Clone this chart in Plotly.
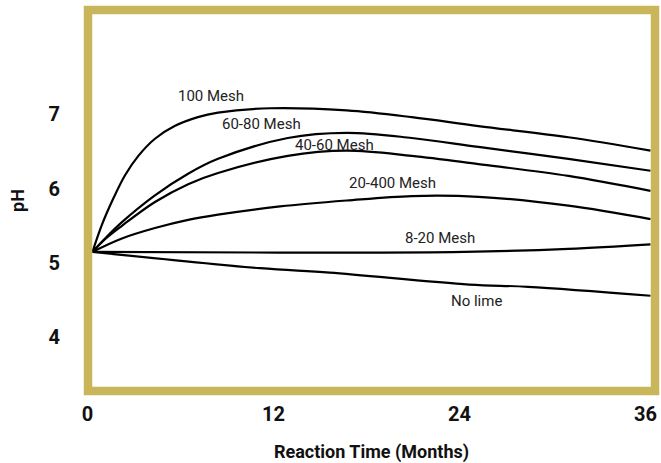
import plotly.graph_objects as go

# Data
t_100 = [0, 0.6, 1.35, 2.1, 2.96, 4.03, 5.3, 6.8, 8.1, 11.5, 16.4, 20.6, 24.9, 30.7, 36]
ph_100 = [5.15, 5.51, 5.87, 6.18, 6.44, 6.67, 6.84, 6.96, 7.02, 7.08, 7.05, 6.96, 6.84, 6.69, 6.51]

t_6080 = [0, 0.81, 1.9, 4.03, 6.17, 8.1, 12.6, 16.4, 20.6, 24.9, 30.7, 36]
ph_6080 = [5.15, 5.33, 5.55, 5.91, 6.20, 6.40, 6.68, 6.75, 6.68, 6.56, 6.40, 6.24]

t_4060 = [0, 0.81, 1.9, 4.03, 6.17, 8.1, 12.6, 16.4, 20.6, 24.9, 30.7, 36]
ph_4060 = [5.15, 5.32, 5.50, 5.82, 6.06, 6.21, 6.44, 6.51, 6.44, 6.33, 6.17, 5.97]

t_20400 = [0, 1.9, 4.03, 6.17, 8.1, 12.1, 16.4, 20.6, 24.9, 30.7, 36]
ph_20400 = [5.15, 5.33, 5.47, 5.58, 5.65, 5.76, 5.84, 5.90, 5.89, 5.77, 5.59]

t_820 = [0, 12, 24, 30.7, 36]
ph_820 = [5.15, 5.14, 5.15, 5.19, 5.25]

t_nolime = [0, 10.8, 15.3, 24.3, 28.1, 36]
ph_nolime = [5.15, 4.93, 4.87, 4.71, 4.68, 4.56]

series_names = ["100 Mesh", "60-80 Mesh", "40-60 Mesh", "20-400 Mesh", "8-20 Mesh", "No lime"]
series_t = [t_100, t_6080, t_4060, t_20400, t_820, t_nolime]
series_ph = [ph_100, ph_6080, ph_4060, ph_20400, ph_820, ph_nolime]

# label anchor positions (data coords)
label_t = [7.65, 10.93, 15.62, 19.35, 22.44, 24.75]
label_ph = [7.24, 6.87, 6.59, 6.07, 5.33, 4.49]

x_ticks = [0, 12, 24, 36]
y_ticks = [4, 5, 6, 7]

GOLD = "#C9B65B"
FONT = "Roboto"

fig = go.Figure()
for name, t, ph in zip(series_names, series_t, series_ph):
    fig.add_trace(go.Scatter(
        x=t, y=ph, mode="lines", name=name,
        line=dict(color="#000000", width=2.2, shape="spline", smoothing=1.0),
        hoverinfo="skip", showlegend=False,
    ))

for name, lt, lp in zip(series_names, label_t, label_ph):
    fig.add_annotation(x=lt, y=lp, text=name, showarrow=False,
                       font=dict(family=FONT, size=15, color="#222222"),
                       xanchor="center", yanchor="middle")

fig.add_shape(type="rect", xref="paper", yref="paper", x0=0, x1=1, y0=0, y1=1,
              line=dict(color=GOLD, width=8.5), layer="above")

fig.update_layout(
    width=661, height=463,
    margin=dict(l=87.5, r=4.5, t=10, b=69),
    paper_bgcolor="white", plot_bgcolor="white",
    font=dict(family=FONT, color="#111111"),
    xaxis=dict(
        range=[-0.289, 36.29], tickvals=x_ticks, ticktext=[str(v) for v in x_ticks],
        showgrid=False, zeroline=False, showline=False,
        ticks="outside", ticklen=5, tickcolor="rgba(0,0,0,0)",
        ticklabelshift=-5,
        tickfont=dict(family=FONT, size=20, color="#111111", weight="bold"),
        title=dict(text="<b>Reaction Time (Months)</b>", font=dict(family=FONT, size=18, color="#111111"), standoff=20),
    ),
    yaxis=dict(
        range=[3.28, 8.4], tickvals=y_ticks, ticktext=[str(v) for v in y_ticks],
        showgrid=False, zeroline=False, showline=False,
        ticks="outside", ticklen=23, tickcolor="rgba(0,0,0,0)",
        tickfont=dict(family=FONT, size=20, color="#111111", weight="bold"),
        title=dict(text="<b>pH</b>", font=dict(family=FONT, size=18, color="#111111"), standoff=19),
    ),
)

fig.write_html(
    "out.html",
    config={"displayModeBar": False},
    post_script="document.documentElement.style.margin='0';document.body.style.margin='0';"
                "document.documentElement.style.overflow='hidden';document.body.style.overflow='hidden';",
)
